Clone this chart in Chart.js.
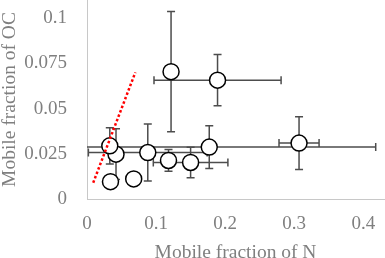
<!DOCTYPE html>
<html>
<head>
<meta charset="utf-8">
<script src="https://cdn.jsdelivr.net/npm/chart.js@4/dist/chart.umd.min.js"></script>
<style>
  html, body { margin: 0; padding: 0; background: #fff; }
  #wrap { width: 385px; height: 258px; }
</style>
</head>
<body>
<div id="wrap"><canvas id="chart" width="385" height="258"></canvas></div>
<script>
// values
const nFraction = [0.1217, 0.189, 0.307, 0.177, 0.150, 0.118, 0.042, 0.088, 0.034, 0.0676, 0.033];
const ocFraction = [0.0704, 0.0657, 0.0309, 0.0287, 0.0202, 0.0213, 0.0248, 0.0257, 0.0096, 0.0111, 0.0294];
const nError = [0, 0.092, 0.029, 0.241, 0.054, 0, 0, 0.086, 0, 0, 0];
const ocError = [0.0332, 0.0142, 0.0146, 0.0118, 0.0084, 0.006, 0.014, 0.0157, 0, 0, 0.01];

// 1:1 reference line
const lineX = [0.009, 0.07];
const lineY = [0.009, 0.07];

const xTicks = [0, 0.1, 0.2, 0.3, 0.4];
const xTickLabels = ['0', '0.1', '0.2', '0.3', '0.4'];
const yTicks = [0, 0.025, 0.05, 0.075, 0.1];
const yTickLabels = ['0', '0.025', '0.05', '0.075', '0.1'];

const textGray = '#7f7f7f';
const serif = 'Liberation Serif, Times New Roman, serif';

// error bars, drawn under the circles
const errorBars = {
  id: 'errorBars',
  beforeDatasetsDraw(chart) {
    const { ctx, chartArea, scales: { x, y } } = chart;
    const cap = 4;
    ctx.save();
    ctx.beginPath();
    ctx.rect(chartArea.left, chartArea.top, chartArea.right - chartArea.left, chartArea.bottom - chartArea.top);
    ctx.clip();
    ctx.strokeStyle = '#4d4d4d';
    ctx.lineWidth = 1.5;
    for (let i = 0; i < nFraction.length; i++) {
      const px = x.getPixelForValue(nFraction[i]);
      const py = y.getPixelForValue(ocFraction[i]);
      if (ocError[i] > 0) {
        const top = y.getPixelForValue(ocFraction[i] + ocError[i]);
        const bot = y.getPixelForValue(ocFraction[i] - ocError[i]);
        ctx.beginPath();
        ctx.moveTo(px, top); ctx.lineTo(px, bot);
        ctx.moveTo(px - cap, top); ctx.lineTo(px + cap, top);
        ctx.moveTo(px - cap, bot); ctx.lineTo(px + cap, bot);
        ctx.stroke();
      }
      if (nError[i] > 0) {
        const left = x.getPixelForValue(nFraction[i] - nError[i]);
        const right = x.getPixelForValue(nFraction[i] + nError[i]);
        ctx.beginPath();
        ctx.moveTo(left, py); ctx.lineTo(right, py);
        ctx.moveTo(left, py - cap); ctx.lineTo(left, py + cap);
        ctx.moveTo(right, py - cap); ctx.lineTo(right, py + cap);
        ctx.stroke();
      }
    }
    ctx.restore();
  }
};

// no label-driven padding around the plot
function noPad(s) {
  s.paddingTop = s.paddingBottom = s.paddingLeft = s.paddingRight = 0;
}

const points = nFraction.map((v, i) => ({ x: v, y: ocFraction[i] }));
const line = lineX.map((v, i) => ({ x: v, y: lineY[i] }));

new Chart(document.getElementById('chart'), {
  type: 'scatter',
  data: {
    datasets: [
      {
        type: 'line',
        data: line,
        order: 0,
        borderColor: '#ff0000',
        borderWidth: 2.5,
        borderDash: [2.5, 2.2],
        pointRadius: 0,
        fill: false
      },
      {
        data: points,
        order: 1,
        pointRadius: 8,
        pointBackgroundColor: '#ffffff',
        pointBorderColor: '#000000',
        pointBorderWidth: 1.5
      }
    ]
  },
  options: {
    responsive: false,
    animation: false,
    layout: { autoPadding: false, padding: { top: 0, right: 1, left: 0, bottom: 0 } },
    plugins: { legend: { display: false }, tooltip: { enabled: false } },
    scales: {
      x: {
        type: 'linear',
        min: 0,
        max: 0.43,
        grid: { display: false },
        border: { display: true, color: '#c8c8c8', width: 1 },
        afterBuildTicks: s => { s.ticks = xTicks.map(v => ({ value: v })); },
        afterFit: s => { s.height = 59; noPad(s); },
        ticks: {
          color: textGray,
          font: { family: serif, size: 19 },
          padding: 6,
          maxRotation: 0,
          callback: (v, i) => xTickLabels[i]
        },
        title: {
          display: true,
          text: 'Mobile fraction of N',
          color: textGray,
          font: { family: serif, size: 19.5, lineHeight: 0.5 },
          padding: 0
        }
      },
      y: {
        type: 'linear',
        min: 0,
        max: 0.11,
        grid: { display: false },
        border: { display: true, color: '#c8c8c8', width: 1 },
        afterBuildTicks: s => { s.ticks = yTicks.map(v => ({ value: v })); },
        afterFit: s => { s.width = 87; noPad(s); },
        ticks: {
          color: textGray,
          font: { family: serif, size: 19 },
          padding: 12,
          callback: (v, i) => yTickLabels[i]
        },
        title: {
          display: true,
          text: 'Mobile fraction of OC',
          color: textGray,
          font: { family: serif, size: 19.5, lineHeight: 1 },
          padding: 0
        }
      }
    }
  },
  plugins: [errorBars]
});
</script>
</body>
</html>
